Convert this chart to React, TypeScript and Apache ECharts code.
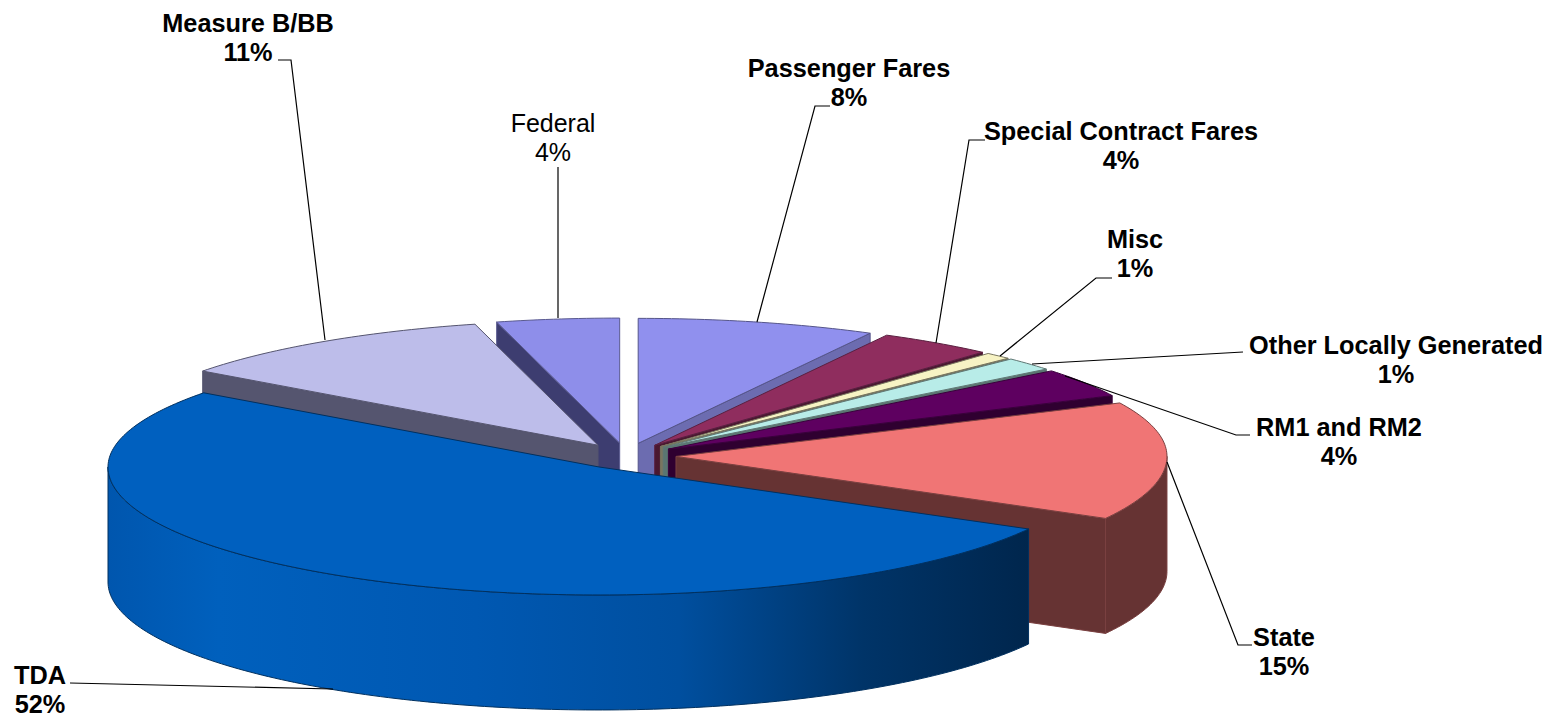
import React, { useEffect, useRef } from "react";
import * as echarts from "echarts";

// clockwise from 12 o'clock
const categories = ["Passenger Fares", "Special Contract Fares", "Misc", "Other Locally Generated", "RM1 and RM2", "State", "TDA", "Measure B/BB", "Federal"];
const values = [7.83, 3.8, 0.89, 1.72, 3.72, 15.08, 52.05, 10.86, 4.03];
const percentLabels = ["8%", "4%", "1%", "1%", "4%", "15%", "52%", "11%", "4%"];
const paintOrder = [8, 7, 0, 1, 2, 3, 4, 5, 6];

const topColors = ["#9090EE", "#8F2D5E", "#F7F3C4", "#B8ECE8", "#5E0060", "#F07575", "#0060BF", "#BDBDEA", "#8E8EEA"];
const wallColors = ["#6C6CB0", "#4A1830", "#797660", "#5A7672", "#2F0030", "#663333", "#00264D", "#55556F", "#3D3D70"];
const edgeColors = ["#55558A", "#5A2040", "#77755F", "#5F7774", "#3A003C", "#7A4040", "#00305F", "#55556F", "#5A5A90"];

const labelLayout = [
  { x: 849, y: 68, bold: true },
  { x: 1121, y: 131, bold: true },
  { x: 1135, y: 239, bold: true },
  { x: 1396, y: 345, bold: true },
  { x: 1339, y: 427, bold: true },
  { x: 1284, y: 637, bold: true },
  { x: 40, y: 675, bold: true },
  { x: 248, y: 23, bold: true },
  { x: 553, y: 123, bold: false },
];
const leaderLines = [
  [[830, 106], [815, 106], [757, 322]],
  [[985, 140], [969, 140], [936, 343]],
  [[1112, 278], [1096, 278], [1000, 356]],
  [[1243, 352], [1032, 364]],
  [[1250, 435], [1236, 435], [1065, 376]],
  [[1252, 645], [1238, 645], [1167, 462]],
  [[70, 683], [333, 689]],
  [[278, 60], [291, 60], [325, 340]],
  [[558, 167], [558, 318]],
];

const CX = 626, CY = 456, RX = 491, RY_BACK = 125, RY_FRONT = 128, DEPTH = 115, EXPLODE = 50;
const total = values.reduce((a, b) => a + b, 0);
const rad = (d: number) => (d * Math.PI) / 180;

function sliceAngles(i: number) {
  let s = 0;
  for (let k = 0; k < i; k++) s += values[k];
  return [(s / total) * 360, ((s + values[i]) / total) * 360];
}

function renderItem(_params: any, api: any) {
  const i = api.value(0);
  const span = (api.value(1) / total) * 360;
  const t1 = sliceAngles(i)[0];
  const t2 = t1 + span;
  const mid = rad((t1 + t2) / 2);
  const ax = CX + EXPLODE * Math.sin(mid);
  const ay = CY - EXPLODE * Math.cos(mid) * (RY_FRONT / RX);
  const pt = (t: number, d = 0) => {
    const c = Math.cos(rad(t));
    return [ax + RX * Math.sin(rad(t)), ay - (c > 0 ? RY_BACK : RY_FRONT) * c + d];
  };
  const arc = (a: number, b: number, d = 0) => {
    const out: number[][] = [];
    const n = Math.max(2, Math.ceil(Math.abs(b - a)));
    for (let k = 0; k <= n; k++) out.push(pt(a + ((b - a) * k) / n, d));
    return out;
  };
  const children: any[] = [];
  const wallStyle = { fill: wallColors[i], stroke: edgeColors[i], lineWidth: 1 };
  const radial = (t: number) => {
    const p = pt(t);
    children.push({
      type: "polygon",
      shape: { points: [[ax, ay], p, [p[0], p[1] + DEPTH], [ax, ay + DEPTH]] },
      style: wallStyle,
    });
  };
  if (Math.sin(rad(t1)) < -1e-6) radial(t1);
  if (Math.sin(rad(t2)) > 1e-6) radial(t2);
  const f1 = Math.max(t1, 90), f2 = Math.min(t2, 270);
  if (f2 > f1) {
    const fill =
      categories[i] === "TDA"
        ? new echarts.graphic.LinearGradient(0, 0, 1, 0, [
            { offset: 0, color: "#0056AE" },
            { offset: 0.12, color: "#0060BD" },
            { offset: 0.4, color: "#0058B2" },
            { offset: 0.62, color: "#004F9F" },
            { offset: 0.82, color: "#003468" },
            { offset: 1, color: "#00264D" },
          ])
        : wallColors[i];
    children.push({
      type: "polygon",
      shape: { points: [...arc(f1, f2), ...arc(f2, f1, DEPTH)] },
      style: { fill, stroke: edgeColors[i], lineWidth: 1 },
    });
  }
  children.push({
    type: "polygon",
    shape: { points: [[ax, ay], ...arc(t1, t2)] },
    style: { fill: topColors[i], stroke: edgeColors[i], lineWidth: 1 },
  });
  return { type: "group", children };
}

export default function App() {
  const ref = useRef<HTMLDivElement>(null);
  useEffect(() => {
    document.body.style.margin = "0";
    document.body.style.background = "#fff";
    const chart = echarts.init(ref.current!, null, { renderer: "svg" });
    const graphic: any[] = [];
    leaderLines.forEach((pts) => {
      graphic.push({
        type: "polyline",
        z: 20,
        shape: { points: pts },
        style: { stroke: "#000", lineWidth: 1.2, fill: "none" },
      });
    });
    categories.forEach((name, i) => {
      const l = labelLayout[i];
      graphic.push({
        type: "text",
        z: 21,
        x: l.x,
        y: l.y - 14.5,
        style: {
          text: `${name}\n${percentLabels[i]}`,
          fill: "#000",
          font: `${l.bold ? "bold 25.3px" : "25px"} "Liberation Sans", Arial, sans-serif`,
          lineHeight: 29,
          align: "center",
          verticalAlign: "top",
        },
      });
    });
    chart.setOption({
      animation: false,
      backgroundColor: "#fff",
      series: [
        {
          type: "custom",
          coordinateSystem: "none",
          silent: true,
          renderItem,
          data: paintOrder.map((i) => [i, values[i]]),
        },
      ],
      graphic,
    });
    return () => chart.dispose();
  }, []);
  return <div ref={ref} style={{ position: "fixed", left: 0, top: 0, width: 1560, height: 719 }} />;
}
